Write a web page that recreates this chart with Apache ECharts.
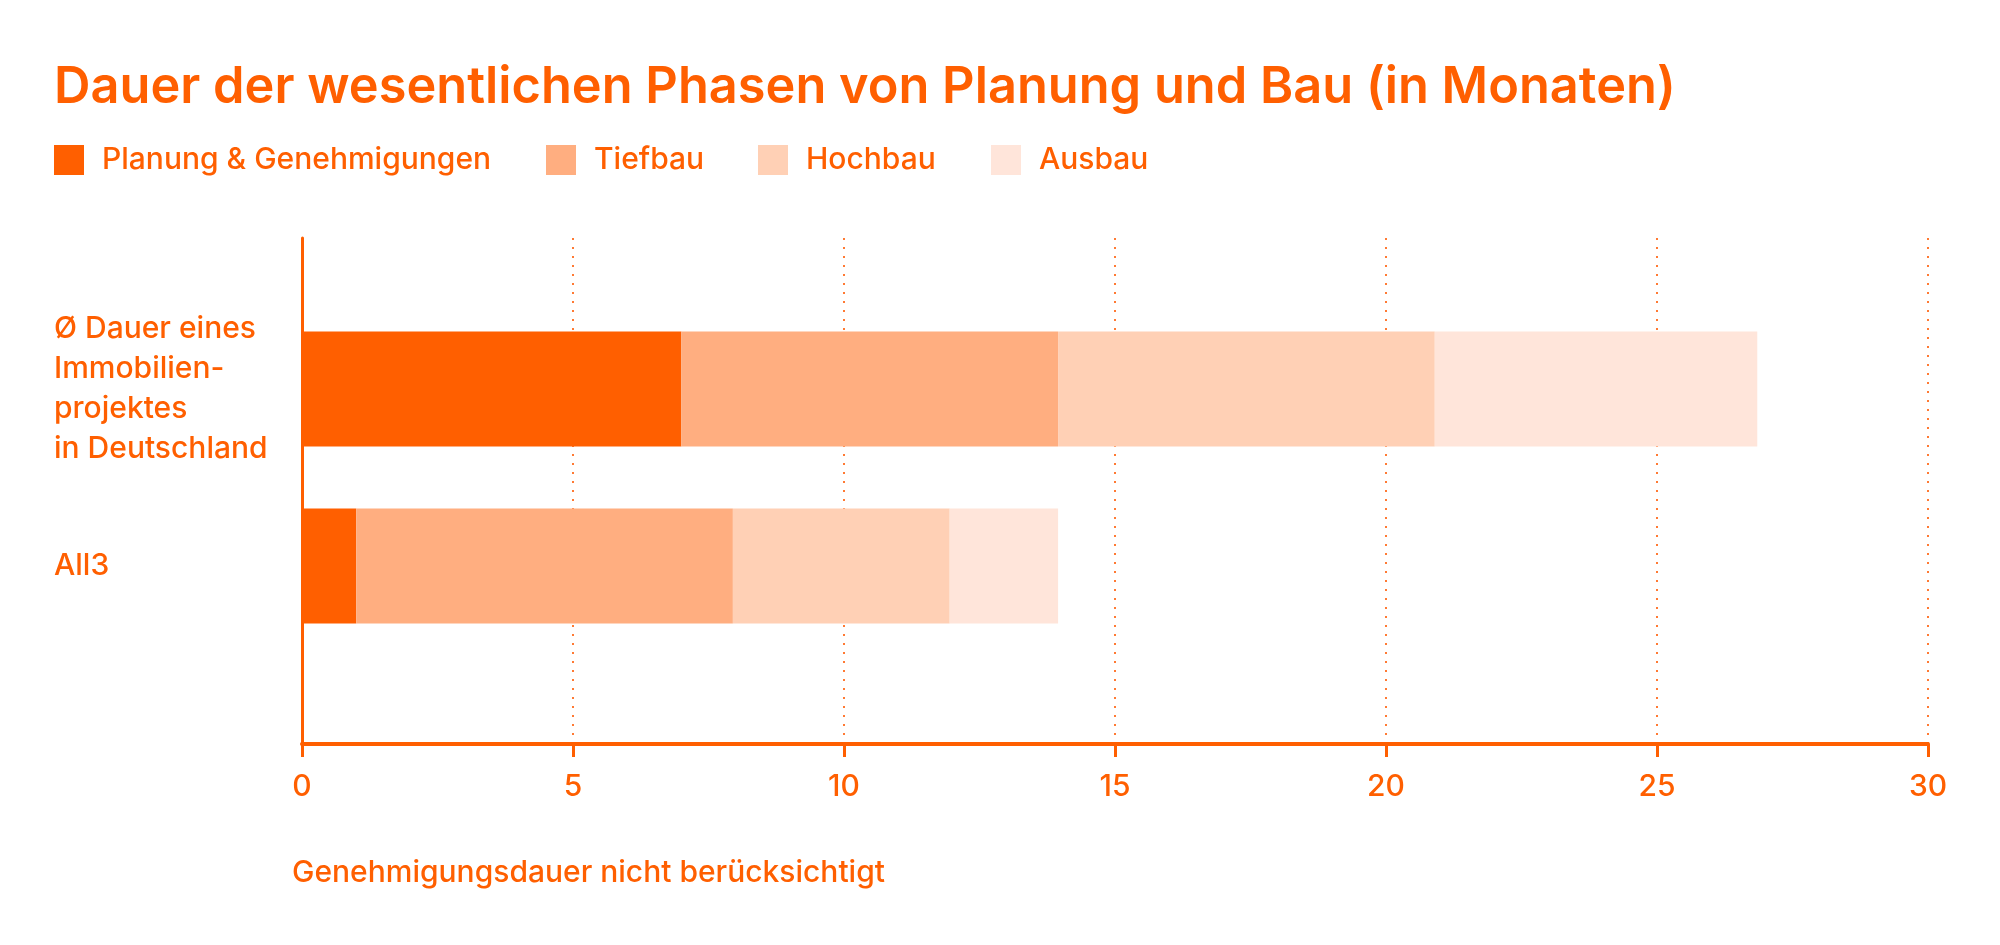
<!DOCTYPE html>
<html lang="de">
<head>
    <meta charset="UTF-8">
    <title>Dauer der Phasen</title>
    <script type="text/javascript" src="https://cdn.jsdelivr.net/npm/echarts@6/dist/echarts.min.js"></script>
    <style>
        html, body { margin: 0; padding: 0; background: #ffffff; }
    </style>
</head>
<body>
    <div id="main" style="width: 2000px;height:945px;"></div>
    <script type="text/javascript">
        // Kategorien (von oben nach unten)
        var categories = ['Ø Dauer eines\nImmobilien-\nprojektes\nin Deutschland', 'All3'];

        // Werte je Phase in Monaten
        var planung = [7, 1];
        var tiefbau = [6.95, 6.95];
        var hochbau = [6.95, 4];
        var ausbau = [5.95, 2];

        var seriesNames = ['Planung & Genehmigungen', 'Tiefbau', 'Hochbau', 'Ausbau'];
        var seriesColors = ['#ff5f00', '#ffae80', '#ffd0b5', '#ffe5da'];
        var seriesData = [planung, tiefbau, hochbau, ausbau];

        // x-Achse 0 bis 30, Schritt 5
        var xMin = 0, xMax = 30, xStep = 5;

        var orange = '#ff5f00';
        var font = 'Inter, "Noto Sans", sans-serif';

        var myChart = echarts.init(document.getElementById('main'));

        var legendLeft = [54, 546, 758, 991];
        var legends = seriesNames.map(function (n, i) {
            return {
                data: [n],
                left: legendLeft[i],
                top: 145,
                padding: 0,
                itemWidth: 30,
                itemHeight: 30,
                icon: 'rect',
                selectedMode: false,
                textStyle: { color: orange, fontSize: 30, fontWeight: 500, fontFamily: font, padding: [0, 0, 0, 13] }
            };
        });

        var option = {
            animation: false,
            title: [{
                text: 'Dauer der wesentlichen Phasen von Planung und Bau (in Monaten)',
                left: 54,
                top: 62,
                padding: 0,
                textStyle: { color: orange, fontSize: 50.5, fontWeight: 600, fontFamily: font }
            }, {
                text: 'Genehmigungsdauer nicht berücksichtigt',
                left: 292,
                top: 858,
                padding: 0,
                textStyle: { color: orange, fontSize: 30, fontWeight: 500, fontFamily: font }
            }],
            legend: legends,
            grid: [
                // Achsen-Rahmen
                { left: 302, right: 72, top: 238, bottom: 201 },
                // Balken
                { left: 302, right: 72, top: 300.5, height: 354 }
            ],
            xAxis: [{
                gridIndex: 0,
                type: 'value',
                min: xMin,
                max: xMax,
                interval: xStep,
                axisLine: { show: true, lineStyle: { color: orange, width: 4 } },
                axisTick: { show: true, length: 13, lineStyle: { color: orange, width: 3 } },
                axisLabel: { color: orange, fontSize: 30, fontWeight: 500, fontFamily: font, margin: 28 },
                splitLine: { show: true, lineStyle: { color: '#ff7a33', width: 2, type: [2, 7] } }
            }, {
                gridIndex: 1,
                type: 'value',
                min: xMin,
                max: xMax,
                show: false
            }],
            yAxis: [{
                gridIndex: 0,
                type: 'value',
                min: 0,
                max: 1,
                axisLine: { show: true, lineStyle: { color: orange, width: 3 } },
                axisTick: { show: false },
                axisLabel: { show: false },
                splitLine: { show: false }
            }, {
                gridIndex: 1,
                type: 'category',
                inverse: true,
                data: categories,
                axisLine: { show: false },
                axisTick: { show: false },
                axisLabel: {
                    color: orange, fontSize: 30, fontWeight: 500, fontFamily: font,
                    align: 'left', margin: 248, lineHeight: 40
                }
            }],
            series: seriesNames.map(function (n, i) {
                return {
                    name: n,
                    type: 'bar',
                    stack: 'dauer',
                    xAxisIndex: 1,
                    yAxisIndex: 1,
                    barWidth: 115,
                    itemStyle: { color: seriesColors[i] },
                    data: seriesData[i]
                };
            })
        };

        myChart.setOption(option);
    </script>
</body>
</html>
